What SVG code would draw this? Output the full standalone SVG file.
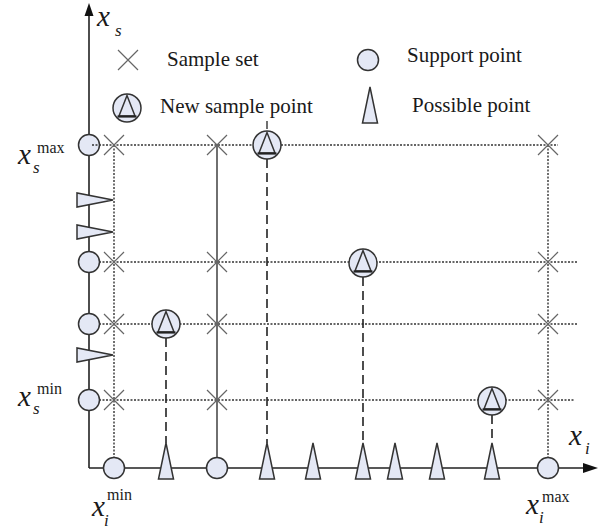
<svg xmlns="http://www.w3.org/2000/svg" width="605" height="531" viewBox="0 0 605 531">
  <style>
    .axis { stroke: #222; stroke-width: 1.6; fill: none; }
    .solid { stroke: #333; stroke-width: 1.4; fill: none; }
    .grid { stroke: #333; stroke-width: 1.4; stroke-dasharray: 2 1.5; fill: none; }
    .dash { stroke: #222; stroke-width: 1.6; stroke-dasharray: 9 5; fill: none; }
    .cross { stroke: #666; stroke-width: 1.2; fill: none; }
    .pt { fill: #e4e8f5; stroke: #333; stroke-width: 1.5; }
    .tri { fill: #e4e8f5; stroke: #333; stroke-width: 1.5; stroke-linejoin: miter; }
    .lbl { font-family: "Liberation Serif", "Times New Roman", serif; font-size: 21px; fill: #1a1a1a; }
    .var { font-family: "Liberation Serif", "Times New Roman", serif; font-style: italic; font-size: 29px; fill: #1a1a1a; }
    .sub { font-family: "Liberation Serif", "Times New Roman", serif; font-style: italic; font-size: 17px; fill: #1a1a1a; }
    .sup { font-family: "Liberation Serif", "Times New Roman", serif; font-size: 16px; fill: #1a1a1a; }
  </style>
  <defs>
    <path id="x" class="cross" d="M-10,-10 L10,10 M-10,10 L10,-10"/>
    <circle id="sp" class="pt" r="10.5"/>
    <g id="nsp">
      <circle class="pt" r="14"/>
      <path class="tri" d="M0,-12.5 L-8,8 L8,8 Z"/>
      <path d="M-9.5,8.5 L9.5,8.5" stroke="#222" stroke-width="2.2"/>
    </g>
    <path id="up" class="tri" d="M-7.5,11 L7.5,11 L0,-25 Z"/>
    <path id="right" class="tri" d="M-12,-7 L-12,7 L24,0 Z"/>
  </defs>

  <!-- connectors: grid, sampling lines and axes -->
  <g id="connectors">
    <path class="grid" d="M99,262 H578 M99,324 H578 M99,400 H575"/>
    <path class="grid" d="M114,145 V458 M548,145 V458"/>
    <path class="solid" d="M217,145 V458"/>
    <path class="dash" d="M166,338 V443 M267,159 V443 M363,277 V443 M492,415 V443"/>
    <path class="solid" d="M267,121 V129"/>
    <path class="axis" d="M89,468 V15 M89,468 H584"/>
    <path d="M89,3 L84.5,16 L93.5,16 Z" fill="#111"/>
    <path d="M598,468 L583,463 L583,473 Z" fill="#111"/>
  </g>

  <!-- support points on the axes -->
  <g id="support-xs">
    <use href="#sp" x="89" y="145"/>
    <use href="#sp" x="89" y="262"/>
    <use href="#sp" x="89" y="324"/>
    <use href="#sp" x="89" y="400"/>
  </g>
  <g id="support-xi">
    <use href="#sp" x="114" y="468"/>
    <use href="#sp" x="217" y="468"/>
    <use href="#sp" x="548" y="468"/>
  </g>
  <path class="grid" d="M92,145 H558"/>

  <!-- sample set -->
  <g id="sample-set">
    <use href="#x" x="114" y="145"/>
    <use href="#x" x="114" y="262"/>
    <use href="#x" x="114" y="324"/>
    <use href="#x" x="114" y="400"/>
    <use href="#x" x="217" y="145"/>
    <use href="#x" x="217" y="262"/>
    <use href="#x" x="217" y="324"/>
    <use href="#x" x="217" y="400"/>
    <use href="#x" x="548" y="145"/>
    <use href="#x" x="548" y="262"/>
    <use href="#x" x="548" y="324"/>
    <use href="#x" x="548" y="400"/>
  </g>

  <!-- possible points -->
  <g id="possible-xs">
    <use href="#right" x="89" y="200"/>
    <use href="#right" x="89" y="232"/>
    <use href="#right" x="89" y="355"/>
  </g>
  <g id="possible-xi">
    <use href="#up" x="166" y="468"/>
    <use href="#up" x="267" y="468"/>
    <use href="#up" x="313" y="468"/>
    <use href="#up" x="363" y="468"/>
    <use href="#up" x="395" y="468"/>
    <use href="#up" x="437" y="468"/>
    <use href="#up" x="492" y="468"/>
  </g>

  <!-- new sample points -->
  <g id="new-samples">
    <use href="#nsp" x="267" y="145"/>
    <use href="#nsp" x="363" y="263"/>
    <use href="#nsp" x="166" y="324"/>
    <use href="#nsp" x="492" y="401"/>
  </g>

  <!-- legend -->
  <g id="legend">
    <use href="#x" x="128" y="60"/>
    <text class="lbl" x="167" y="66">Sample set</text>
    <use href="#sp" x="368" y="60"/>
    <text class="lbl" x="407" y="62">Support point</text>
    <use href="#nsp" x="127" y="108"/>
    <text class="lbl" x="160" y="113">New sample point</text>
    <use href="#up" x="370" y="112"/>
    <text class="lbl" x="412" y="112">Possible point</text>
  </g>

  <!-- axis labels -->
  <g id="axis-labels">
    <text class="var" x="97" y="26">x</text>
    <text class="sub" x="115" y="36">s</text>
    <text class="var" x="569" y="445">x</text>
    <text class="sub" x="585" y="454">i</text>

    <text class="var" x="18" y="164">x</text>
    <text class="sup" x="37" y="153">max</text>
    <text class="sub" x="33" y="173">s</text>

    <text class="var" x="18" y="406">x</text>
    <text class="sup" x="37" y="394">min</text>
    <text class="sub" x="33" y="414">s</text>

    <text class="var" x="92" y="516">x</text>
    <text class="sup" x="107" y="500">min</text>
    <text class="sub" x="104" y="526">i</text>

    <text class="var" x="526" y="514">x</text>
    <text class="sup" x="542" y="502">max</text>
    <text class="sub" x="539" y="523">i</text>
  </g>
</svg>
